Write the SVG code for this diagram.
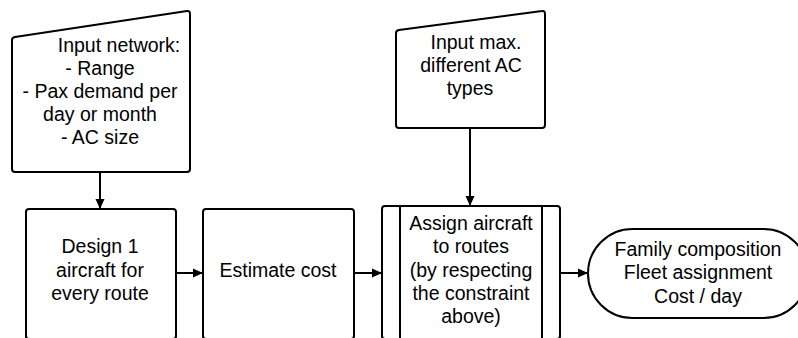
<svg xmlns="http://www.w3.org/2000/svg" width="798" height="338" viewBox="0 0 798 338">
<defs>
<marker id="ah" markerWidth="10" markerHeight="10" refX="9" refY="5" orient="auto" markerUnits="userSpaceOnUse">
<path d="M0,0.5 L10,5 L0,9.5 Z" fill="#000"/>
</marker>
</defs>
<style>
.s{fill:#fff;stroke:#000;stroke-width:2;stroke-linejoin:round}
.t{font-family:"Liberation Sans",Arial,sans-serif;font-size:19.5px;fill:#000;text-anchor:middle}
.c{fill:none;stroke:#000;stroke-width:2}
</style>
<rect width="798" height="338" fill="#fff"/>
<g id="connectors">
<line class="c" x1="100" y1="172" x2="100" y2="208" marker-end="url(#ah)"/>
<line class="c" x1="470" y1="128" x2="470" y2="205" marker-end="url(#ah)"/>
<line class="c" x1="176" y1="273" x2="202" y2="273" marker-end="url(#ah)"/>
<line class="c" x1="354" y1="273" x2="381" y2="273" marker-end="url(#ah)"/>
<line class="c" x1="560" y1="273" x2="587" y2="273" marker-end="url(#ah)"/>
</g>
<g id="input-network">
<path class="s" d="M15,37 L187,11 Q190,10.5 190,14 L190,169 Q190,172 187,172 L15,172 Q12,172 12,169 L12,40 Q12,37.5 15,37 Z"/>
<text class="t" x="119" y="52">Input network:</text>
<text class="t" x="100" y="75">- Range</text>
<text class="t" x="100" y="98">- Pax demand per</text>
<text class="t" x="100" y="121">day or month</text>
<text class="t" x="100" y="144">- AC size</text>
</g>
<g id="input-max">
<path class="s" d="M399,30 L542,11 Q545,10.5 545,14 L545,125 Q545,128 542,128 L399,128 Q396,128 396,125 L396,33 Q396,30.5 399,30 Z"/>
<text class="t" x="476" y="49">Input max.</text>
<text class="t" x="471" y="72">different AC</text>
<text class="t" x="470" y="95">types</text>
</g>
<g id="design">
<rect class="s" x="26" y="209" width="150" height="130" rx="3"/>
<text class="t" x="100" y="253">Design 1</text>
<text class="t" x="100" y="277">aircraft for</text>
<text class="t" x="100" y="300">every route</text>
</g>
<g id="estimate">
<rect class="s" x="203" y="209" width="151" height="130" rx="3"/>
<text class="t" x="278" y="277">Estimate cost</text>
</g>
<g id="assign">
<rect class="s" x="382" y="206" width="178" height="133" rx="3"/>
<line class="c" x1="400" y1="206" x2="400" y2="339"/>
<line class="c" x1="542" y1="206" x2="542" y2="339"/>
<text class="t" x="471" y="230">Assign aircraft</text>
<text class="t" x="471" y="253">to routes</text>
<text class="t" x="471" y="277">(by respecting</text>
<text class="t" x="471" y="300">the constraint</text>
<text class="t" x="471" y="323">above)</text>
</g>
<g id="result">
<rect class="s" x="588" y="229" width="220" height="89" rx="44.5"/>
<text class="t" x="698" y="256">Family composition</text>
<text class="t" x="698" y="279">Fleet assignment</text>
<text class="t" x="698" y="303">Cost / day</text>
</g>
</svg>
